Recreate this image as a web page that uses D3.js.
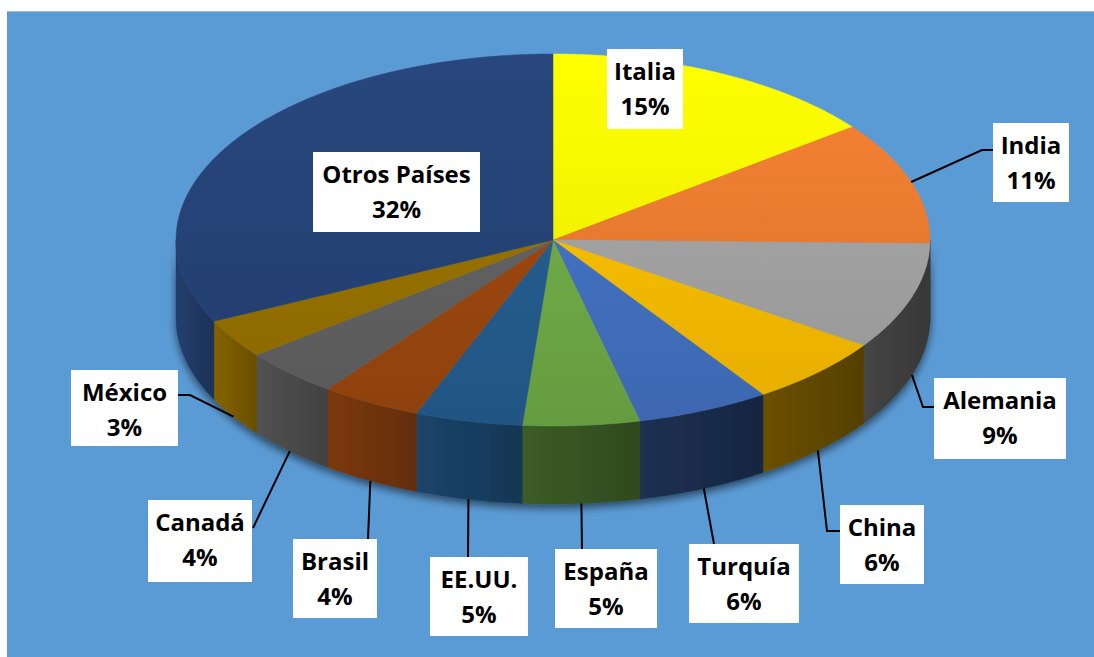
<!DOCTYPE html>
<html>
<head>
<meta charset="utf-8">
<script src="https://cdn.jsdelivr.net/npm/d3@7"></script>
<style>
  html, body { margin: 0; padding: 0; background: #fff; }
  svg { display: block; }
</style>
</head>
<body>
<div id="chart"></div>
<script>
// data
const countries = ["Italia", "India", "Alemania", "China", "Turquía", "España", "EE.UU.", "Brasil", "Canadá", "México", "Otros Países"];
const shares = [14.6, 10.7, 9.3, 6.0, 5.7, 5.0, 4.6, 4.3, 4.2, 3.4, 32.2];
const colors = ["#FFFF00", "#ED7D31", "#A5A5A5", "#FFC000", "#4472C4", "#70AD47", "#255E91", "#9E480E", "#636363", "#997300", "#264478"];

// label boxes [x, y, w, h] and leader line ends (after the anchor on the pie)
const labelBoxes = [
    [607, 49, 76, 80], [993, 123, 76, 79], [934, 378, 132, 81], [840, 505, 84, 79],
    [689, 544, 110, 79], [555, 549, 102, 79], [430, 557, 98, 79], [293, 539, 84, 79],
    [148, 500, 104, 82], [71, 370, 107, 76], [313, 152, 167, 80]
];
const leaders = [
    null, [[982, 150], [993, 150]], [[923, 407], [934, 407]], [[827, 531], [840, 531]],
    [[714, 544]], [[582, 549]], [[468, 557]], [[368, 539]],
    [[253, 528]], [[190, 395], [178, 395]], null
];

const width = 1094, height = 657;
const cx = 553, cy = 240, rx = 377, ry = 186, depth = 78;

const svg = d3.select("#chart").append("svg")
    .attr("width", width)
    .attr("height", height);

const defs = svg.append("defs");

// background
svg.append("rect")
    .attr("x", 7).attr("y", 11)
    .attr("width", width - 7).attr("height", height - 11)
    .attr("fill", "#5B9BD5");
svg.append("line")
    .attr("x1", 7).attr("x2", width).attr("y1", 11.5).attr("y2", 11.5)
    .attr("stroke", "#9DBAD6").attr("stroke-width", 1);

const pie = d3.pie().sort(null).startAngle(0).endAngle(2 * Math.PI);
const arcs = pie(shares);

const pt = (a, dy = 0) => [cx + rx * Math.sin(a), cy - ry * Math.cos(a) + dy];

function arcPoints(a0, a1, dy) {
    const n = Math.max(2, Math.ceil((a1 - a0) / (Math.PI / 360)));
    return d3.range(n + 1).map(i => pt(a0 + (a1 - a0) * i / n, dy));
}

const line = d3.line();

// shadow filter for the side walls
const shadow = defs.append("filter").attr("id", "shadow")
    .attr("x", "-10%").attr("y", "-10%").attr("width", "120%").attr("height", "140%");
shadow.append("feGaussianBlur").attr("in", "SourceAlpha").attr("stdDeviation", 4);
shadow.append("feOffset").attr("dx", 0).attr("dy", 4).attr("result", "blur");
shadow.append("feComponentTransfer").append("feFuncA").attr("type", "linear").attr("slope", 0.55);
const merge = shadow.append("feMerge");
merge.append("feMergeNode");
merge.append("feMergeNode").attr("in", "SourceGraphic");

// shade of the side wall: dark on the right, lighter on the left
const deg = Math.PI / 180;
const shade = d3.scaleLinear()
    .domain([90 * deg, 165 * deg, 195 * deg, 270 * deg])
    .range([0.38, 0.38, 0.68, 0.86]);

function scaleColor(c, f) {
    const rgb = d3.rgb(c);
    return d3.rgb(Math.min(255, rgb.r * f), Math.min(255, rgb.g * f), Math.min(255, rgb.b * f)).formatHex();
}

const sides = svg.append("g").attr("filter", "url(#shadow)");

arcs.forEach((d, i) => {
    const a = Math.max(d.startAngle, Math.PI / 2);
    const b = Math.min(d.endAngle, 3 * Math.PI / 2);
    if (a >= b) return;
    const top = arcPoints(a, b, 0);
    const bottom = arcPoints(a, b, depth).reverse();
    const xs = top.map(p => p[0]);
    const f = shade((a + b) / 2);
    const g = defs.append("linearGradient").attr("id", "side" + i)
        .attr("gradientUnits", "userSpaceOnUse")
        .attr("x1", d3.min(xs)).attr("x2", d3.max(xs)).attr("y1", 0).attr("y2", 0);
    g.append("stop").attr("offset", "0%").attr("stop-color", scaleColor(colors[i], f * 1.1));
    g.append("stop").attr("offset", "100%").attr("stop-color", scaleColor(colors[i], f * 0.88));
    sides.append("path")
        .attr("d", line(top.concat(bottom)) + "Z")
        .attr("fill", "url(#side" + i + ")")
        .attr("stroke", "url(#side" + i + ")")
        .attr("stroke-width", 0.5);
});

// top faces
const tops = svg.append("g");
arcs.forEach((d, i) => {
    const g = defs.append("linearGradient").attr("id", "top" + i)
        .attr("gradientUnits", "userSpaceOnUse")
        .attr("x1", 0).attr("x2", 0).attr("y1", cy - ry).attr("y2", cy + ry);
    g.append("stop").attr("offset", "0%").attr("stop-color", scaleColor(colors[i], 1.05));
    g.append("stop").attr("offset", "100%").attr("stop-color", scaleColor(colors[i], 0.9));
    tops.append("path")
        .attr("d", line([[cx, cy]].concat(arcPoints(d.startAngle, d.endAngle, 0))) + "Z")
        .attr("fill", "url(#top" + i + ")")
        .attr("stroke", "url(#top" + i + ")")
        .attr("stroke-width", 0.5);
});

// leader lines
const fmt = d3.format(".0f");
arcs.forEach((d, i) => {
    if (!leaders[i]) return;
    const mid = (d.startAngle + d.endAngle) / 2;
    const front = mid > Math.PI / 2 && mid < 3 * Math.PI / 2;
    const start = pt(mid, front ? depth : 0);
    svg.append("path")
        .attr("d", line([start].concat(leaders[i])))
        .attr("fill", "none")
        .attr("stroke", "#000")
        .attr("stroke-width", 2);
});

// labels
const labels = svg.append("g")
    .attr("font-family", "'Open Sans', 'Noto Sans', sans-serif")
    .attr("font-weight", "bold")
    .attr("font-size", 24)
    .attr("text-anchor", "middle")
    .attr("fill", "#000");

countries.forEach((name, i) => {
    const [x, y, w, h] = labelBoxes[i];
    labels.append("rect")
        .attr("x", x).attr("y", y).attr("width", w).attr("height", h)
        .attr("fill", "#fff");
    const t = labels.append("text");
    t.append("tspan").attr("x", x + w / 2).attr("y", y + 31).text(name);
    t.append("tspan").attr("x", x + w / 2).attr("y", y + 66).text(fmt(shares[i]) + "%");
});
</script>
</body>
</html>
